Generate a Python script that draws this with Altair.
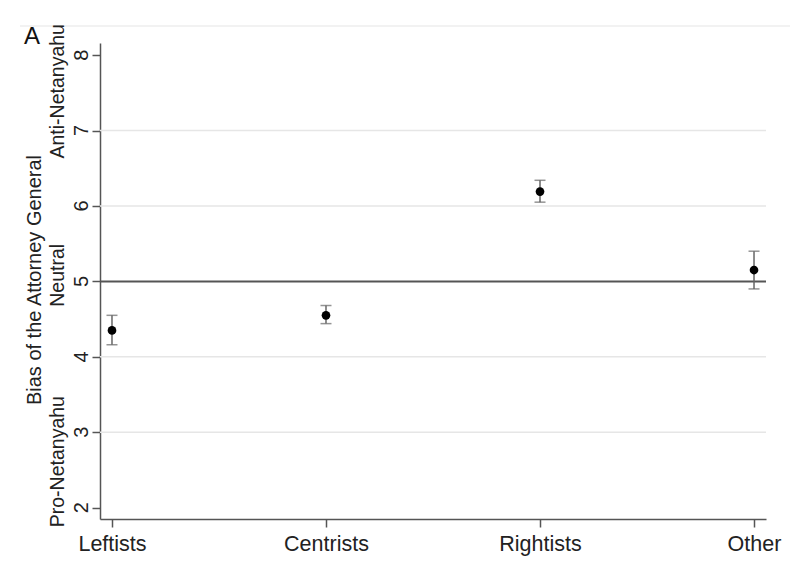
import altair as alt
import pandas as pd

categories = ["Leftists", "Centrists", "Rightists", "Other"]
means = [4.35, 4.55, 6.19, 5.15]
lower = [4.16, 4.44, 6.05, 4.90]
upper = [4.55, 4.68, 6.34, 5.40]

y_ticks = [2, 3, 4, 5, 6, 7, 8]
grid_values = [3, 4, 6, 7]
neutral_value = 5
side_labels = ["Pro-Netanyahu", "Neutral", "Anti-Netanyahu"]
side_positions = [2.61, 5.08, 7.52]
y_title = "Bias of the Attorney General"
panel_label = "A"

FONT = "Liberation Sans"

df = pd.DataFrame({
    "pos": list(range(1, len(categories) + 1)),
    "group": categories,
    "mean": means,
    "lo": lower,
    "hi": upper,
})
grid_df = pd.DataFrame({"v": grid_values})
neutral_df = pd.DataFrame({"v": [neutral_value]})
side_df = pd.DataFrame({"label": side_labels, "v": side_positions})
ytick_df = pd.DataFrame({"v": y_ticks, "t": [str(v) for v in y_ticks]})

label_expr = "[" + ",".join("'" + c + "'" for c in categories) + "][datum.value - 1]"

xscale = alt.Scale(domain=[0.944, 4.056], nice=False, zero=False)
yscale = alt.Scale(domain=[1.85, 8.16], nice=False, zero=False)

x_axis = alt.Axis(
    values=[1, 2, 3, 4], labelExpr=label_expr, title=None, grid=False,
    labelFont=FONT, labelFontSize=21.5, labelColor="#222222", labelPadding=6,
    tickSize=8, tickColor="#555555", tickWidth=1.5,
    domainColor="#555555", domainWidth=1.5,
)
y_axis = alt.Axis(
    values=y_ticks, title=None, grid=False, labels=False,
    tickSize=8, tickColor="#555555", tickWidth=1.5,
    domainColor="#555555", domainWidth=1.5,
)

grid = alt.Chart(grid_df).mark_rule(color="#e6e6e6", strokeWidth=1.5).encode(
    y=alt.Y("v:Q", scale=yscale, axis=y_axis)
)

neutral = alt.Chart(neutral_df).mark_rule(color="#555555", strokeWidth=2).encode(
    y=alt.Y("v:Q", scale=yscale)
)

bars = alt.Chart(df).mark_rule(color="#666666", strokeWidth=1.5).encode(
    x=alt.X("pos:Q", scale=xscale, axis=x_axis),
    y=alt.Y("lo:Q", scale=yscale),
    y2="hi:Q",
)
cap_lo = alt.Chart(df).mark_tick(color="#666666", orient="horizontal", size=11, thickness=1.5).encode(
    x=alt.X("pos:Q", scale=xscale),
    y=alt.Y("lo:Q", scale=yscale),
)
cap_hi = alt.Chart(df).mark_tick(color="#666666", orient="horizontal", size=11, thickness=1.5).encode(
    x=alt.X("pos:Q", scale=xscale),
    y=alt.Y("hi:Q", scale=yscale),
)
points = alt.Chart(df).mark_circle(color="black", opacity=1, size=75).encode(
    x=alt.X("pos:Q", scale=xscale),
    y=alt.Y("mean:Q", scale=yscale),
)

ytick_labels = alt.Chart(ytick_df).mark_text(
    angle=270, align="center", baseline="middle", font=FONT, fontSize=20, color="#222222"
).encode(
    x=alt.value(-18),
    y=alt.Y("v:Q", scale=yscale),
    text="t:N",
)

side = alt.Chart(side_df).mark_text(
    angle=270, align="center", baseline="middle", font=FONT, fontSize=19.5, color="#222222"
).encode(
    x=alt.value(-42),
    y=alt.Y("v:Q", scale=yscale),
    text="label:N",
)

title_df = pd.DataFrame({"t": [y_title]})
title = alt.Chart(title_df).mark_text(
    angle=270, align="center", baseline="middle", font=FONT, fontSize=20, color="#222222"
).encode(
    x=alt.value(-65),
    y=alt.value(237),
    text="t:N",
)

panel_df = pd.DataFrame({"t": [panel_label]})
panel = alt.Chart(panel_df).mark_text(
    align="center", baseline="middle", font=FONT, fontSize=24, color="#111111"
).encode(
    x=alt.value(-68),
    y=alt.value(-6),
    text="t:N",
)

top_line = alt.Chart(panel_df).mark_rule(color="#eeeeee", strokeWidth=1.5).encode(
    x=alt.value(-80), x2=alt.value(690), y=alt.value(-17)
)

chart = alt.layer(
    top_line, grid, neutral, bars, cap_lo, cap_hi, points, ytick_labels, side, title, panel
).properties(
    width=666, height=476,
    padding={"left": 92, "top": 35, "right": 30, "bottom": 51},
    autosize=alt.AutoSizeParams(type="none"),
    background="white",
).configure_view(stroke=None)

chart.save("out.html", embed_options={"renderer": "svg", "actions": False})
